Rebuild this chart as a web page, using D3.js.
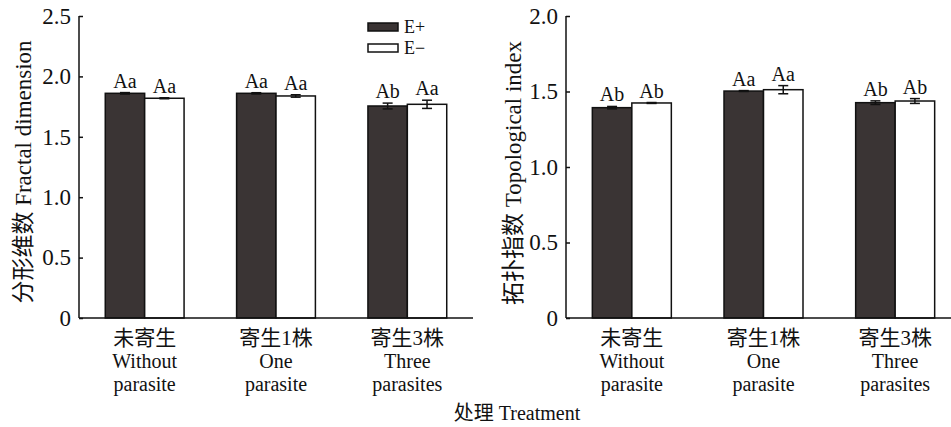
<!DOCTYPE html>
<html><head><meta charset="utf-8">
<script src="https://cdn.jsdelivr.net/npm/d3@7"></script>
<style>
body{margin:0;background:#fff;}
</style></head>
<body>
<svg id="c" width="951" height="427"></svg>
<script>
const FONT = '"Liberation Serif","Noto Sans CJK SC"';
const categoriesCN = ["未寄生", "寄生1株", "寄生3株"];
const categoriesEN1 = ["Without", "One", "Three"];
const categoriesEN2 = ["parasite", "parasite", "parasites"];
const seriesNames = ["E+", "E−"];

const fractalEplus = [1.860, 1.860, 1.755];
const fractalEminus = [1.819, 1.838, 1.769];
const fractalErrPlus = [0.006, 0.005, 0.024];
const fractalErrMinus = [0.004, 0.010, 0.034];
const fractalLetters = [["Aa","Aa"],["Aa","Aa"],["Ab","Aa"]];
const fractalTicks = [0, 0.5, 1.0, 1.5, 2.0, 2.5];

const topoEplus = [1.393, 1.503, 1.426];
const topoEminus = [1.424, 1.512, 1.437];
const topoErrPlus = [0.008, 0.003, 0.012];
const topoErrMinus = [0.003, 0.027, 0.016];
const topoLetters = [["Ab","Ab"],["Aa","Aa"],["Ab","Ab"]];
const topoTicks = [0, 0.5, 1.0, 1.5, 2.0];

const svg = d3.select("#c");
const colors = ["#3a3434", "#ffffff"];

function panel(opt){
  const g = svg.append("g");
  const x = d3.scaleBand().domain(d3.range(3)).range([opt.x0, opt.x1]).padding(0);
  const y = d3.scaleLinear().domain([0, opt.max]).range([318, 16]);
  const bw = x.bandwidth()*0.3;
  const vals = [opt.ep, opt.em];
  const errs = [opt.eep, opt.eem];
  for (let s=0;s<2;s++){
    g.selectAll(null).data(d3.range(3)).enter().append("rect")
      .attr("x", i => x(i)+x.bandwidth()/2 - bw + s*bw)
      .attr("y", i => y(vals[s][i]))
      .attr("width", bw)
      .attr("height", i => y(0)-y(vals[s][i]))
      .attr("fill", colors[s]).attr("stroke","#111").attr("stroke-width",1.5);
    const cx = i => x(i)+x.bandwidth()/2 - bw/2 + s*bw;
    const eg = g.selectAll(null).data(d3.range(3)).enter().append("g");
    eg.append("line").attr("x1",cx).attr("x2",cx)
      .attr("y1", i=>y(vals[s][i]+errs[s][i])).attr("y2", i=>y(vals[s][i]-errs[s][i]))
      .attr("stroke","#111").attr("stroke-width",1.5);
    eg.append("line").attr("x1",i=>cx(i)-5).attr("x2",i=>cx(i)+5)
      .attr("y1", i=>y(vals[s][i]+errs[s][i])).attr("y2", i=>y(vals[s][i]+errs[s][i]))
      .attr("stroke","#111").attr("stroke-width",1.5);
    eg.append("line").attr("x1",i=>cx(i)-5).attr("x2",i=>cx(i)+5)
      .attr("y1", i=>y(vals[s][i]-errs[s][i])).attr("y2", i=>y(vals[s][i]-errs[s][i]))
      .attr("stroke","#111").attr("stroke-width",1.5);
    eg.append("text").attr("x",cx).attr("y", i=>y(vals[s][i]+errs[s][i])-5)
      .attr("text-anchor","middle").style("font-family",FONT).style("font-size","20px").attr("fill","#111")
      .text(i=>opt.letters[i][s]);
  }
  const ya = d3.axisLeft(y).tickValues(opt.ticks).tickSize(-4).tickPadding(8)
    .tickFormat(d => d===0 ? "0" : d3.format(".1f")(d));
  const yg = g.append("g").attr("transform",`translate(${opt.x0},0)`).call(ya);
  yg.attr("font-family", null).attr("font-size", null);
  yg.select(".domain").remove();
  yg.selectAll(".tick line").attr("stroke","#111").attr("stroke-width",1.5);
  yg.selectAll(".tick text").style("font-family",FONT).style("font-size","23px").attr("fill","#111");
  g.append("line").attr("x1",opt.x0).attr("x2",opt.x0).attr("y1",16).attr("y2",318)
    .attr("stroke","#111").attr("stroke-width",1.5);
  g.append("line").attr("x1",opt.x0).attr("x2",opt.x1).attr("y1",y(0)).attr("y2",y(0))
    .attr("stroke","#111").attr("stroke-width",1.5);
  const lab = g.selectAll(null).data(d3.range(3)).enter().append("text")
    .attr("text-anchor","middle").style("font-family",FONT).style("font-size","20px").attr("fill","#111");
  lab.append("tspan").attr("x", i=>x(i)+x.bandwidth()/2).attr("y",345).style("font-size","21px").text(i=>categoriesCN[i]);
  lab.append("tspan").attr("x", i=>x(i)+x.bandwidth()/2).attr("y",368).text(i=>categoriesEN1[i]);
  lab.append("tspan").attr("x", i=>x(i)+x.bandwidth()/2).attr("y",391).text(i=>categoriesEN2[i]);
  g.append("text").attr("transform",`translate(${opt.tx},${opt.ty}) rotate(-90)`)
    .attr("text-anchor","middle").attr("dy","0.35em").style("font-family",FONT).style("font-size",opt.tfs)
    .attr("fill","#111").text(opt.title);
}

panel({x0:79, x1:473, max:2.5, ep:fractalEplus, em:fractalEminus, eep:fractalErrPlus, eem:fractalErrMinus,
  letters:fractalLetters, ticks:fractalTicks, tx:23, ty:172, tfs:"23px", title:"分形维数 Fractal dimension"});
panel({x0:566, x1:961, max:2.0, ep:topoEplus, em:topoEminus, eep:topoErrPlus, eem:topoErrMinus,
  letters:topoLetters, ticks:topoTicks, tx:513, ty:173, tfs:"23px", title:"拓扑指数 Topological index"});

const lg = svg.append("g");
seriesNames.forEach((n,i)=>{
  lg.append("rect").attr("x",368).attr("y",23+i*21).attr("width",30).attr("height",8)
    .attr("fill",colors[i]).attr("stroke","#111").attr("stroke-width",1.5);
  lg.append("text").attr("x",404).attr("y",33+i*21).style("font-family",FONT).style("font-size","18px")
    .attr("fill","#111").text(n);
});

svg.append("text").attr("x",517).attr("y",420).attr("text-anchor","middle")
  .style("font-family",FONT).style("font-size","20px").attr("fill","#111").text("处理 Treatment");
</script>
</body></html>
